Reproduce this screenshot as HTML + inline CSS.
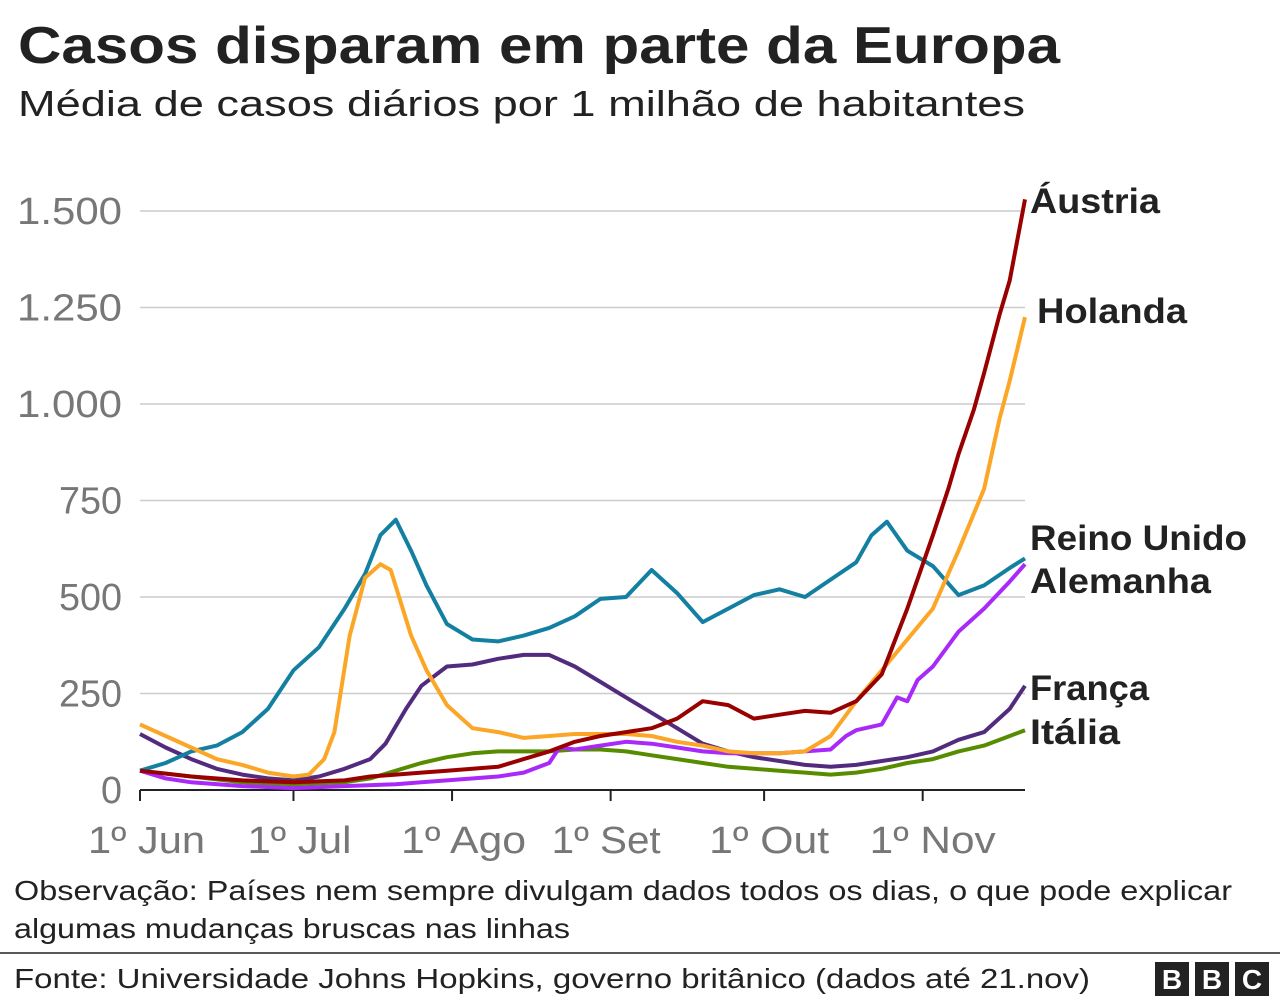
<!DOCTYPE html>
<html><head><meta charset="utf-8"><style>
body{margin:0;background:#fff;font-family:"Liberation Sans",sans-serif;}
#wrap{position:relative;width:1280px;height:1000px;overflow:hidden;}
</style></head><body>
<div id="wrap">
<svg id="chart" width="1280" height="1000">
<text x="18" y="63" font-size="52" font-weight="bold" fill="#222" textLength="1042" lengthAdjust="spacingAndGlyphs">Casos disparam em parte da Europa</text>
<text x="18" y="116" font-size="36" fill="#222" textLength="1007" lengthAdjust="spacingAndGlyphs">Média de casos diários por 1 milhão de habitantes</text>
<g id="grid"></g><g id="lines"></g><g id="labels"></g>
<text x="14" y="900" font-size="28" fill="#222" textLength="1218" lengthAdjust="spacingAndGlyphs">Observação: Países nem sempre divulgam dados todos os dias, o que pode explicar</text>
<text x="14" y="938" font-size="28" fill="#222" textLength="556" lengthAdjust="spacingAndGlyphs">algumas mudanças bruscas nas linhas</text>
<line x1="0" y1="953" x2="1280" y2="953" stroke="#222" stroke-width="1.5"/>
<text x="14" y="988" font-size="28" fill="#222" textLength="1076" lengthAdjust="spacingAndGlyphs">Fonte: Universidade Johns Hopkins, governo britânico (dados até 21.nov)</text>
<g>
<rect x="1155" y="962" width="34" height="34" fill="#222"/><text x="1172" y="989" font-size="28" font-weight="bold" fill="#fff" text-anchor="middle">B</text>
<rect x="1195" y="962" width="34" height="34" fill="#222"/><text x="1212" y="989" font-size="28" font-weight="bold" fill="#fff" text-anchor="middle">B</text>
<rect x="1235" y="962" width="34" height="34" fill="#222"/><text x="1252" y="989" font-size="28" font-weight="bold" fill="#fff" text-anchor="middle">C</text>
</g>
</svg>
</div>
<script>
const yTicks=[0,250,500,750,1000,1250,1500];
const yTickLabels=["0","250","500","750","1.000","1.250","1.500"];
const xTickDays=[0,30,61,92,122,153];
const xTickLabels=["1º Jun","1º Jul","1º Ago","1º Set","1º Out","1º Nov"];
const ukDays=[0,5,10,15,20,25,30,35,40,44,47,50,53,56,60,65,70,75,80,85,90,95,100,105,110,115,120,125,130,135,140,143,146,150,155,160,165,170,173];
const ukVals=[50,70,100,115,150,210,310,370,470,560,660,700,620,530,430,390,385,400,420,450,495,500,570,510,435,470,505,520,500,545,590,660,695,620,580,505,530,575,600];
const nlDays=[0,5,10,15,20,25,30,33,36,38,41,44,47,49,53,56,60,65,70,75,80,85,90,95,100,105,110,115,120,125,130,135,140,145,150,155,160,165,168,170,173];
const nlVals=[170,140,110,80,65,45,35,40,80,150,400,550,585,570,400,310,220,160,150,135,140,145,145,145,140,125,115,100,95,95,100,140,230,310,390,470,620,780,960,1060,1225];
const atDays=[0,10,20,30,40,45,50,55,60,65,70,75,80,85,90,95,100,105,110,115,120,125,130,135,140,145,150,155,158,160,163,165,168,170,173];
const atVals=[50,35,25,20,25,35,40,45,50,55,60,80,100,125,140,150,160,185,230,220,185,195,205,200,230,300,470,660,780,870,985,1080,1230,1320,1530];
const deDays=[0,5,10,20,30,40,50,55,60,70,75,80,82,85,90,95,100,105,110,115,120,125,130,135,138,140,145,148,150,152,155,160,165,170,173];
const deVals=[50,30,20,10,5,10,15,20,25,35,45,70,110,105,115,125,120,110,100,95,95,95,100,105,140,155,170,240,230,285,320,410,470,540,585];
const itDays=[0,10,20,30,40,45,50,55,60,65,70,75,80,85,90,95,100,105,110,115,120,125,130,135,140,145,150,155,160,165,170,173];
const itVals=[50,35,20,15,20,30,50,70,85,95,100,100,100,105,105,100,90,80,70,60,55,50,45,40,45,55,70,80,100,115,140,155];
const frDays=[0,5,10,15,20,25,30,35,40,45,48,52,55,60,65,70,75,80,85,90,95,100,105,110,115,120,125,130,135,140,145,150,155,160,165,170,173];
const frVals=[145,110,80,55,40,30,25,35,55,80,120,210,270,320,325,340,350,350,320,280,240,200,160,120,100,85,75,65,60,65,75,85,100,130,150,210,270];

const NS="http://www.w3.org/2000/svg";
const x=d=>140+d*(885/173);
const y=v=>790-v*(579/1500);
function mk(tag,attrs,parent){const e=document.createElementNS(NS,tag);for(const k in attrs)e.setAttribute(k,attrs[k]);parent.appendChild(e);return e;}
const grid=document.getElementById('grid');
yTicks.forEach((t,i)=>{
  if(t>0){const l=mk('line',{x1:140,x2:1025,y1:y(t),y2:y(t),stroke:'#ccc','stroke-width':1.5},grid);
  
  }
  const w=yTickLabels[i].length*21;
  const tx=mk('text',{x:122,y:y(t)+13,'font-size':38,fill:'#777','text-anchor':'end',textLength:w,lengthAdjust:'spacingAndGlyphs'},grid);
  tx.textContent=yTickLabels[i];
  
  
});
const ax=mk('line',{x1:140,x2:1025,y1:790,y2:790,stroke:'#222','stroke-width':2},grid);


const xLabW=[117,104,125,109,120,126];
const xLabOff=[52,46,51,59,55,53];
xTickDays.forEach((d,i)=>{
  const tk=mk('line',{x1:x(d),x2:x(d),y1:790,y2:801,stroke:'#222','stroke-width':2},grid);
  
  
  const tx=mk('text',{x:x(d)-xLabOff[i],y:853,'font-size':38,fill:'#777',textLength:xLabW[i],lengthAdjust:'spacingAndGlyphs'},grid);
  tx.textContent=xTickLabels[i];
  
  
});
const series=[
 [itDays,itVals,'#588c00','italia'],
 [frDays,frVals,'#522b7e','franca'],
 [deDays,deVals,'#a92af8','alemanha'],
 [ukDays,ukVals,'#1380a1','reino-unido'],
 [nlDays,nlVals,'#fba626','holanda'],
 [atDays,atVals,'#990000','austria']];
const lines=document.getElementById('lines');
series.forEach(s=>{
  const p=s[0].map((d,i)=>(i?'L':'M')+x(d).toFixed(1)+','+y(s[1][i]).toFixed(1)).join('');
  const path=mk('path',{d:p,fill:'none',stroke:s[2],'stroke-width':4,'stroke-linejoin':'round'},lines);
  
  
});
const lab=[['Áustria',1030,213,130],['Holanda',1037,323,150],['Reino Unido',1030,550,217],['Alemanha',1030,593,181],['França',1030,700,119],['Itália',1030,744,90]];
const lg=document.getElementById('labels');
lab.forEach(l=>{
  const t=mk('text',{x:l[1],y:l[2],'font-size':35,'font-weight':'bold',fill:'#222',textLength:l[3],lengthAdjust:'spacingAndGlyphs'},lg);
  t.textContent=l[0];
  
  
});
</script>
</body></html>
